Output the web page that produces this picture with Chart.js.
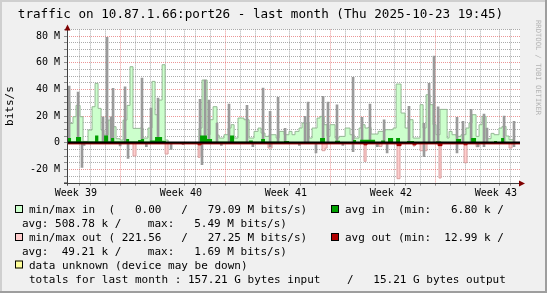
<!DOCTYPE html>
<html lang="en">
<head>
    <meta charset="UTF-8" />
    <title>traffic on 10.87.1.66:port26 - last month</title>
    <script src="https://cdn.jsdelivr.net/npm/chart.js"></script>
    <style>
        html, body { margin: 0; padding: 0; background: #f0f0f0; }
        #wrap { width: 547px; height: 293px; }
    </style>
</head>
<body>
<div id="wrap"><canvas id="trafficChart" width="547" height="293"></canvas></div>
<script>
    // time in days from the start of the window, values in Mbit/s (out is drawn negative)
    const X_MIN = -0.09, X_MAX = 30.11;
    const weekStarts = [4, 11, 18, 25];
    const weekLabelAt = [0.5, 7.5, 14.5, 21.5, 28.5];
    const weekLabels = ['Week 39', 'Week 40', 'Week 41', 'Week 42', 'Week 43'];

    // min/max in (filled band); each value holds from its time to the next one
    const inTimes = [-0.09,0.11,0.31,0.51,0.78,0.98,1.31,1.58,1.78,1.98,
        2.18,2.38,2.65,2.91,3.18,3.45,3.65,3.91,4.11,4.31,
        4.78,4.98,5.31,5.58,5.78,5.98,6.25,6.45,6.65,8.71,
        8.91,9.25,9.45,9.65,9.91,10.05,10.38,10.65,10.85,11.05,
        11.31,11.71,12.05,12.38,12.65,12.85,13.11,13.38,13.85,14.05,
        14.38,14.71,14.91,15.11,15.38,15.58,16.05,16.25,16.58,16.78,
        17.05,17.25,17.45,17.78,18.05,18.45,18.78,19.05,19.38,19.58,
        19.78,19.98,20.18,20.65,21.11,21.65,21.85,22.18,22.45,22.65,
        22.98,23.45,23.65,23.85,24.11,24.31,24.51,24.78,25.25,25.38,
        25.58,25.85,26.18,26.51,26.71,26.91,27.18,27.38,27.58,27.85,
        28.18,28.38,28.71,28.91,29.18,29.38,29.71,30.11];
    const inMax = [30.75,14.5,19.5,28,19.5,1,9.5,27,44.5,25.75,
        9.5,5.75,17,12,3,2,17,28,57,10.75,
        11,3.5,11,46,21,32,58.5,2,0,11,
        47,6,17.25,27,5.75,3.5,6,11,13.5,3.5,
        18.5,17.25,3.5,8.5,11,7.25,4.75,6,3.5,8.5,
        6,8.5,6,8.5,11,14.75,3.5,11,18.5,19.75,
        13.5,4.75,13.5,3.5,4.75,11,6,3.5,11,13.5,
        11,11.5,6.5,8.5,9.75,11,44,22.25,11,17.25,
        3.5,28.5,11,36,28.5,13.5,6,25,3.5,8.5,
        6,4.75,6,11,14.75,21,4.75,13.5,19.75,3,
        7,6,11,12.25,5,2.25,0,0];

    // short-lived peaks (grey spikes)
    const spikeTimes = [0.05,0.65,0.91,2.31,2.58,2.85,2.98,3.78,3.98,4.91,
        5.51,5.98,6.85,7.65,8.78,8.91,9.11,9.38,9.91,10.71,
        11.91,12.98,13.45,13.98,14.45,15.78,15.98,16.51,16.98,17.31,
        17.91,18.98,19.58,20.11,21.05,21.25,22.71,23.71,24.05,24.38,
        24.65,25.91,26.31,26.85,27.71,27.91,29.05,29.71,
        1.05,3.45,5.2,10.2,12.3,15.4,18.3,20.6,27.3];
    const spikeHigh = [42.5,38,0,19.5,79,19.5,40.75,42,0,48.5,
        26,33.5,0,0,32.5,0,47,32,14.75,29,
        28,41,23.5,34,10.75,19.75,30.5,0,34.75,30.5,
        28.5,49,19,29,17.25,0,27.25,14.5,44.5,65,
        27,19,16,25,21.5,11,20,16,
        0,0,0,0,0,0,0,0,0];
    const spikeLow = [0,0,-18.5,0,0,0,0,0,-11.75,0,
        0,0,-5,-1.5,0,-16.5,0,0,0,0,
        0,0,-3,0,0,0,0,-7.75,0,0,
        0,-6.75,0,0,0,-7.75,0,-10.5,0,0,
        0,-7.75,0,0,-3,0,0,-3,
        -2,-2.5,-3,-2,-3,-2,-2,-3,-3];

    // min/max out (negative band)
    const outTimes = [-0.09,4.31,4.51,6.45,6.65,8.65,8.78,13.31,13.58,16.91,
        17.11,17.25,19.71,19.85,20.71,20.91,21.91,22.11,22.98,23.11,
        23.45,23.91,24.71,24.85,26.38,26.58,27.18,27.38,29.38,29.58,30.11];
    const outMax = [0,-10,0,-8.5,0,-11,0,-4,0,-6,
        -4,0,-14,0,-2.75,0,-27,0,-2.5,0,
        -6,0,-26.5,0,-15,0,-3,0,-4,0,0];

    // averages
    const avgInTimes = [-0.09,0.18,0.51,0.85,1.78,2.0,2.38,2.65,2.85,3.05,
        3.85,4.05,4.65,4.85,5.05,5.45,5.78,6.25,6.5,8.78,
        9.25,9.58,10.78,11.05,12.05,12.3,12.85,13.11,14.38,14.71,
        16.78,17.11,17.78,18.11,18.98,19.18,19.45,20.45,20.85,21.11,
        21.31,21.65,21.85,22.11,22.58,23.05,24.51,24.85,25.85,26.18,
        26.85,27.18,28.38,28.58,28.85,29.05,29.7,30.11];
    const avgIn = [3.5,1,4.25,1,5.4,1,5.5,1,3.5,1,
        2.75,1,2,2.75,0.8,1.75,4.25,1.5,0.1,5.5,
        2.75,0.8,5.5,0.8,1.75,0.8,2.75,0.8,1.25,0.6,
        3.5,0.6,1.5,0.6,2,0.6,2.25,0.6,1.75,0.6,
        3.5,0.6,3.5,0.6,1.2,0.6,1,0.6,2.75,0.6,
        3.5,0.6,1.2,0.6,3.5,0.6,0,0];
    const avgOutTimes = [-0.09,8.65,8.85,19.71,19.91,21.91,22.18,22.98,23.18,24.65,24.91,26.38,26.58,30.11];
    const avgOut = [-0.9,-1.6,-0.9,-1.6,-0.9,-2.2,-0.9,-1.6,-0.9,-2.2,-0.9,-1.6,-0.9,-0.9];

    const legendLines = [
        'min/max in  (   0.00   /   79.09 M bits/s)',
        'avg: 508.78 k /    max:   5.49 M bits/s)',
        'min/max out ( 221.56   /   27.25 M bits/s)',
        'avg:  49.21 k /    max:   1.69 M bits/s)',
        'data unknown (device may be down)',
        'totals for last month : 157.21 G bytes input    /   15.21 G bytes output'
    ];
    const legendRight = ['avg in  (min:   6.80 k /', 'avg out (min:  12.99 k /'];

    const GRID = 'rgba(143,143,143,0.75)';
    const MGRID = 'rgba(222,80,80,0.6)';
    const NONE = 'rgba(0,0,0,0)';
    const MONO = '"DejaVu Sans Mono", monospace';

    const toPoints = (xs, ys) => xs.map((x, i) => ({ x: x, y: ys[i] }));
    const tickVal = c => (c && c.tick ? c.tick.value : null);

    const rrdLook = {
        id: 'rrdLook',
        beforeDraw(chart) {
            const { ctx, chartArea: a, width, height } = chart;
            ctx.save();
            ctx.fillStyle = '#f0f0f0';
            ctx.fillRect(0, 0, width, height);
            ctx.fillStyle = '#ffffff';
            ctx.fillRect(a.left, a.top, a.right - a.left, a.bottom - a.top);
            ctx.restore();
        },
        afterDatasetsDraw(chart) {
            const { ctx, chartArea: a, scales: { y } } = chart;
            const y0 = Math.round(y.getPixelForValue(0)) - 0.5;
            ctx.save();
            // zero rule
            ctx.strokeStyle = '#000';
            ctx.lineWidth = 2;
            ctx.beginPath();
            ctx.moveTo(a.left, y0);
            ctx.lineTo(a.right, y0);
            ctx.stroke();
            // axes
            ctx.strokeStyle = '#404040';
            ctx.lineWidth = 1;
            ctx.beginPath();
            ctx.moveTo(a.left + 0.5, a.bottom + 3);
            ctx.lineTo(a.left + 0.5, a.top - 3);
            ctx.moveTo(a.left - 3, Math.round(a.bottom) + 0.5);
            ctx.lineTo(a.right + 2, Math.round(a.bottom) + 0.5);
            ctx.stroke();
            // arrows
            ctx.fillStyle = '#7f0000';
            ctx.beginPath();
            ctx.moveTo(a.left + 0.5, a.top - 5);
            ctx.lineTo(a.left - 2.5, a.top + 1);
            ctx.lineTo(a.left + 3.5, a.top + 1);
            ctx.closePath();
            ctx.fill();
            const yb = Math.round(a.bottom) + 0.5;
            ctx.beginPath();
            ctx.moveTo(a.right + 5, yb);
            ctx.lineTo(a.right - 1, yb - 3);
            ctx.lineTo(a.right - 1, yb + 3);
            ctx.closePath();
            ctx.fill();
            ctx.restore();
        },
        afterDraw(chart) {
            const { ctx, width, height } = chart;
            ctx.save();
            ctx.fillStyle = '#000';
            ctx.textBaseline = 'alphabetic';
            ctx.font = '12.6px ' + MONO;
            ctx.textAlign = 'center';
            ctx.fillText('traffic on 10.87.1.66:port26 - last month (Thu 2025-10-23 19:45)', 260.5, 18);

            ctx.textAlign = 'left';
            ctx.font = '11px ' + MONO;
            const base = [213, 227, 241, 254.5, 268.5, 282.5];
            const xs = [29, 22, 29, 22, 29, 29];
            legendLines.forEach((t, i) => ctx.fillText(t, xs[i], base[i]));
            ctx.fillText(legendRight[0], 345, base[0]);
            ctx.fillText(legendRight[1], 345, base[2]);

            const box = (x, yb, color) => {
                ctx.fillStyle = color;
                ctx.fillRect(x, yb - 8, 8, 8);
                ctx.strokeStyle = '#000';
                ctx.lineWidth = 1;
                ctx.strokeRect(x + 0.5, yb - 7.5, 7, 7);
            };
            box(15, base[0], '#ccffcc');
            box(331, base[0], '#00a000');
            box(15, base[2], '#ffcccc');
            box(331, base[2], '#b00000');
            box(15, base[4], '#ffff99');

            // vertical credit text
            ctx.translate(538, 20);
            ctx.rotate(Math.PI / 2);
            ctx.font = '7.2px ' + MONO;
            ctx.fillStyle = '#b4b4b4';
            ctx.textBaseline = 'middle';
            ctx.fillText('RRDTOOL / TOBI OETIKER', 0, 0);
            ctx.setTransform(1, 0, 0, 1, 0, 0);

            // shaded frame
            ctx.lineWidth = 2;
            ctx.strokeStyle = '#cfcfcf';
            ctx.beginPath();
            ctx.moveTo(1, height); ctx.lineTo(1, 1); ctx.lineTo(width, 1);
            ctx.stroke();
            ctx.strokeStyle = '#9e9e9e';
            ctx.beginPath();
            ctx.moveTo(width - 1, 0); ctx.lineTo(width - 1, height - 1); ctx.lineTo(0, height - 1);
            ctx.stroke();
            ctx.restore();
        }
    };

    const ctx = document.getElementById('trafficChart').getContext('2d');
    new Chart(ctx, {
        type: 'line',
        data: {
            datasets: [
                {
                    label: 'avg out',
                    data: toPoints(avgOutTimes, avgOut),
                    stepped: 'before',
                    fill: 'origin',
                    backgroundColor: '#a80000',
                    borderColor: '#a80000',
                    borderWidth: 1,
                    pointRadius: 0,
                    order: 1
                },
                {
                    label: 'avg in',
                    data: toPoints(avgInTimes, avgIn),
                    stepped: 'before',
                    fill: 'origin',
                    backgroundColor: '#00a000',
                    borderColor: '#00a000',
                    borderWidth: 0,
                    pointRadius: 0,
                    order: 2
                },
                {
                    type: 'bar',
                    label: 'peaks',
                    data: spikeTimes.map((x, i) => ({ x: x, y: [spikeLow[i], spikeHigh[i]] })),
                    backgroundColor: '#9a9a9a',
                    borderWidth: 0,
                    barThickness: 2,
                    order: 3
                },
                {
                    label: 'min/max out',
                    data: toPoints(outTimes, outMax),
                    stepped: 'before',
                    fill: 'origin',
                    backgroundColor: '#ffcccc',
                    borderColor: '#d8a0a0',
                    borderWidth: 1,
                    pointRadius: 0,
                    order: 4
                },
                {
                    label: 'min/max in',
                    data: toPoints(inTimes, inMax),
                    stepped: 'before',
                    fill: 'origin',
                    backgroundColor: '#ccffcc',
                    borderColor: '#94b894',
                    borderWidth: 1,
                    pointRadius: 0,
                    order: 5
                }
            ]
        },
        options: {
            responsive: false,
            animation: false,
            devicePixelRatio: 1,
            events: [],
            layout: { padding: { top: 29.4, right: 27, bottom: 0, left: 0 } },
            plugins: { legend: { display: false }, tooltip: { enabled: false } },
            scales: {
                x: {
                    type: 'linear',
                    min: X_MIN,
                    max: X_MAX,
                    offset: false,
                    afterBuildTicks(scale) {
                        const vals = [];
                        for (let d = Math.ceil(X_MIN); d <= X_MAX; d++) vals.push(d);
                        weekLabelAt.forEach(v => vals.push(v));
                        vals.sort((p, q) => p - q);
                        scale.ticks = vals.map(v => ({ value: v }));
                    },
                    afterFit(scale) { scale.height = 110.3; },
                    grid: {
                        color: c => {
                            const v = tickVal(c);
                            if (v === null || weekLabelAt.includes(v)) return NONE;
                            return weekStarts.includes(v) ? MGRID : GRID;
                        },
                        tickColor: c => {
                            const v = tickVal(c);
                            return (v === null || weekLabelAt.includes(v)) ? NONE : '#8f8f8f';
                        },
                        lineWidth: 1,
                        drawTicks: true,
                        tickLength: 3
                    },
                    border: { display: false, dash: [1, 1] },
                    ticks: {
                        autoSkip: false,
                        maxRotation: 0,
                        padding: 2,
                        color: '#000',
                        font: { family: MONO, size: 10 },
                        callback: v => {
                            const k = weekLabelAt.indexOf(v);
                            return k >= 0 ? weekLabels[k] : '';
                        }
                    }
                },
                y: {
                    min: -30,
                    max: 85,
                    afterFit(scale) { scale.width = 67; },
                    grid: {
                        color: c => {
                            const v = tickVal(c);
                            if (v === null || v === 0 || v === -30) return NONE;
                            return v % 20 === 0 ? MGRID : GRID;
                        },
                        tickColor: '#8f8f8f',
                        lineWidth: 1,
                        drawTicks: true,
                        tickLength: 3
                    },
                    border: { display: false, dash: [1, 1] },
                    title: {
                        display: true,
                        text: 'bits/s',
                        color: '#000',
                        font: { family: MONO, size: 11 },
                        padding: { top: 3.5, bottom: 0 }
                    },
                    ticks: {
                        stepSize: 5,
                        autoSkip: false,
                        padding: 4,
                        color: '#000',
                        font: { family: MONO, size: 10 },
                        callback: v => (v % 20 === 0 ? (v === 0 ? '0' : v + ' M') : '')
                    }
                }
            }
        },
        plugins: [rrdLook]
    });
</script>
</body>
</html>
